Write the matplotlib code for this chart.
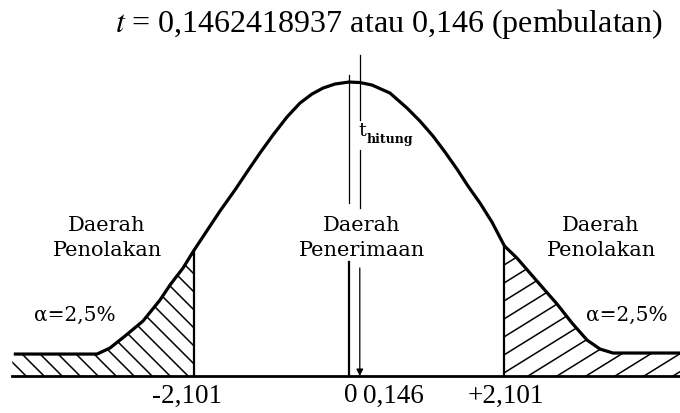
import numpy as np
import matplotlib
matplotlib.use("Agg")
import matplotlib.pyplot as plt
from matplotlib.patches import Polygon

# curve (t units, relative height)
curve_x = [-4.405, -3.405, -3.230, -3.027, -2.784, -2.554, -2.419, -2.243, -2.101,
           -1.878, -1.743, -1.541, -1.378, -1.203, -1.027, -0.838, -0.662, -0.500,
           -0.351, -0.189, 0.0, 0.149, 0.311, 0.554, 0.784, 0.959, 1.135, 1.297,
           1.459, 1.608, 1.770, 1.932, 2.101, 2.270, 2.446, 2.622, 2.811, 3.014,
           3.216, 3.392, 3.568]
curve_y = [0.0299, 0.0299, 0.0381, 0.0544, 0.0748, 0.1034, 0.1238, 0.1469, 0.1701,
           0.2040, 0.2245, 0.2531, 0.2776, 0.3034, 0.3279, 0.3524, 0.3714, 0.3837,
           0.3918, 0.3973, 0.4000, 0.3993, 0.3959, 0.3850, 0.3646, 0.3469, 0.3265, 0.3048,
           0.2816, 0.2585, 0.2354, 0.2095, 0.1769, 0.1605, 0.1401, 0.1197, 0.0980, 0.0721,
           0.0490, 0.0367, 0.0313]
t_crit = 2.101
t_hit = 0.146
title_value = "0,1462418937"
crit_labels = ["-2,101", "+2,101"]
zero_label = "0"
hit_label = "0,146"
region_side = "Daerah\nPenolakan"
region_mid = "Daerah\nPenerimaan"
alpha_label = "α=2,5%"

plt.rcParams["mathtext.fontset"] = "stix"
serif = "Liberation Serif"
wide = "DejaVu Serif"

fig = plt.figure(figsize=(6.8, 4.13), dpi=100)
ax = fig.add_axes([0, 0, 1, 1])
xlim, ylim = (-4.716, 4.473), (-0.0503, 0.5116)
ax.set_xlim(*xlim)
ax.set_ylim(*ylim)
ax.axis("off")

W, H = 680, 413
px_x = W / (xlim[1] - xlim[0])
px_y = H / (ylim[1] - ylim[0])

def hatch(poly, slope_px, step_px, x0, x1):
    patch = Polygon(poly, closed=True, facecolor="none", edgecolor="none")
    ax.add_patch(patch)
    slope = slope_px * px_x / px_y
    for c in np.arange(x0, x1, step_px / px_x):
        xx = np.array([c - 8, c + 8])
        ln, = ax.plot(xx, slope * (xx - c), color="black", lw=1.1)
        ln.set_clip_path(patch)

cx, cy = np.array(curve_x), np.array(curve_y)
x_left = -4.55

# left tail
m = cx <= -t_crit
poly = [(x_left, 0), (x_left, cy[0])] + list(zip(cx[m], cy[m])) + [(-t_crit, 0)]
hatch(poly, -1.0, 18, x_left - 0.3, 0.5)
# right tail
m = cx >= t_crit
poly = [(t_crit, 0)] + list(zip(cx[m], cy[m])) + [(xlim[1], cy[-1]), (xlim[1], 0)]
hatch(poly, 0.62, 29, -1.5, xlim[1] + 0.2)

# curve and flat tails
ax.plot([x_left + 0.02] + curve_x + [xlim[1]], [curve_y[0]] + curve_y + [curve_y[-1]],
        color="black", lw=2.3, solid_capstyle="butt", solid_joinstyle="round")
ax.plot([x_left, xlim[1]], [0, 0], color="black", lw=2.0)

# critical lines
for s in (-1, 1):
    yc = np.interp(s * t_crit, curve_x, curve_y)
    ax.plot([s * t_crit, s * t_crit], [0, yc], color="black", lw=1.6)

# zero line (broken for label)
ax.plot([0, 0], [0.2354, 0.4095], color="black", lw=0.9)
ax.plot([0, 0], [0, 0.155], color="black", lw=1.6)

# t hitung line with arrow
ax.plot([t_hit, t_hit], [0.348, 0.4367], color="black", lw=0.9)
ax.plot([t_hit, t_hit], [0.2286, 0.3075], color="black", lw=0.9)
ax.annotate("", xy=(t_hit, 0), xytext=(t_hit, 0.147),
            arrowprops=dict(arrowstyle="-|>", color="black", lw=0.9,
                            mutation_scale=10, shrinkA=0, shrinkB=0))

def ftxt(px, py, s, **kw):
    fig.text(px / W, 1 - py / H, s, **kw)

ftxt(389, 24, r"$t$ = " + title_value + " atau " + hit_label + " (pembulatan)",
     ha="center", va="center", fontsize=23, family=serif)

for px in (107, 601, 362):
    ftxt(px, 238, region_mid if px == 362 else region_side, ha="center",
         va="center", fontsize=15, family=wide, linespacing=1.4)
ftxt(75, 315, alpha_label, ha="center", va="center", fontsize=14.5, family=wide)
ftxt(627, 315, alpha_label, ha="center", va="center", fontsize=14.5, family=wide)

ftxt(362, 131, "t", ha="center", va="center", fontsize=14, family=wide)
ftxt(390, 139, "hitung", ha="center", va="center", fontsize=9, family=wide,
     fontweight="bold")

ftxt(187, 396, crit_labels[0], ha="center", va="center", fontsize=19.5, family=serif)
ftxt(506, 396, crit_labels[1], ha="center", va="center", fontsize=19.5, family=serif)
ftxt(351, 396, zero_label, ha="center", va="center", fontsize=19.5, family=serif)
ftxt(363, 396, hit_label, ha="left", va="center", fontsize=19.5, family=serif)

fig.savefig("out.png", dpi=100)
